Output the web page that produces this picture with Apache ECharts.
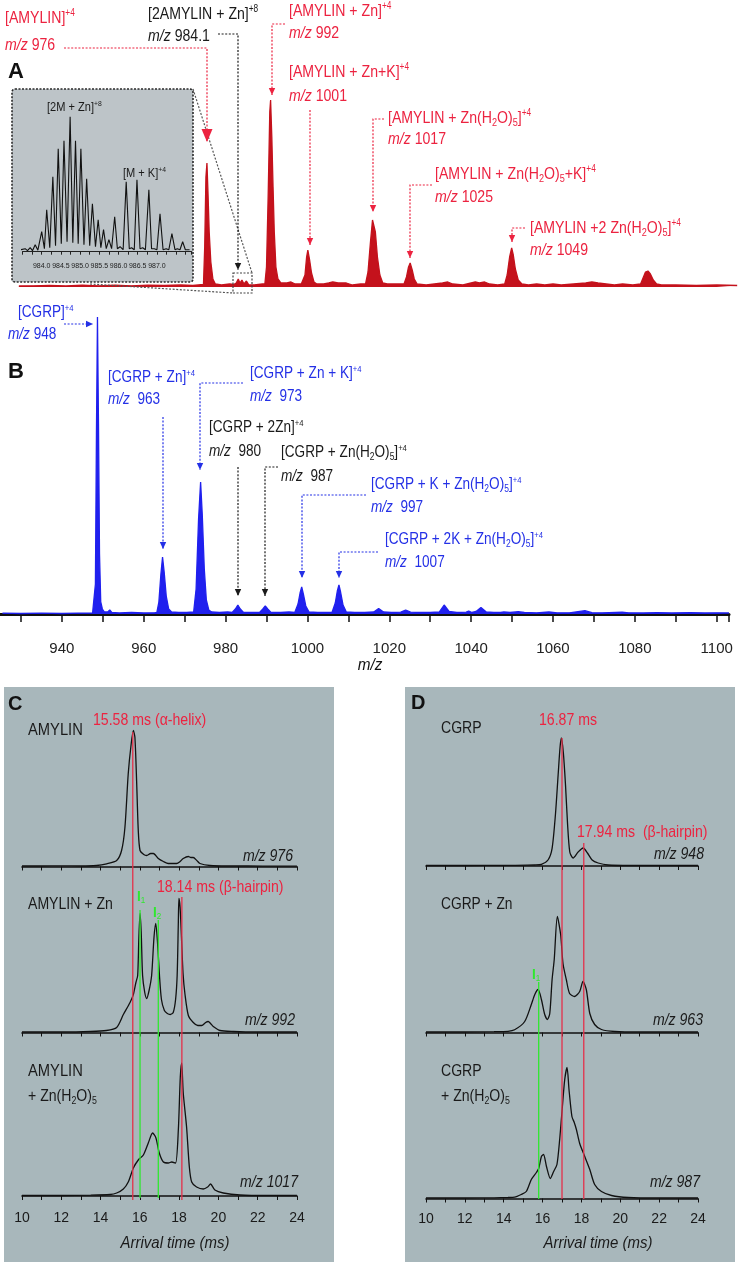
<!DOCTYPE html>
<html><head><meta charset="utf-8">
<script src="https://cdn.jsdelivr.net/npm/echarts@6/dist/echarts.min.js"></script>
<style>html,body{margin:0;padding:0;background:#fff}#c{width:738px;height:1265px}</style>
</head><body><div id="c"></div>
<script>
// ---------------- DATA ----------------
// Panel A: AMYLIN + Zn mass spectrum [m/z, intensity]
const spectrumA = [
[929.5,1],[933,1.2],[937,1.5],[941,1],[945,1.8],[949,1.2],[953,1.8],[957,1.2],[961,1.8],[965,1.5],[969,2],[972,1.5],
[974.6,2.5],[974.9,40],[975.2,110],[975.45,124],[975.7,95],[976.0,55],[976.4,25],[976.9,8],[977.5,3],[979,2],[981,3],
[982,2.5],[982.6,4],[983.1,8],[983.5,4],[984.0,7],[984.5,3],[985.1,6],[985.7,2],[987,2],[989,3],
[989.6,3],[990.0,20],[990.4,90],[990.8,175],[991.0,187],[991.3,150],[991.6,100],[991.9,55],[992.3,20],[992.8,8],[993.5,4],
[995,4],[996,5],[997,3],[998.5,3],
[998.9,3],[999.4,12],[999.8,30],[1000.1,37],[1000.5,28],[1001.0,14],[1001.6,5],[1002.3,3],
[1004,3],[1005.2,4],[1006.2,5],[1007.5,4],[1009.5,4],[1011,2],[1013,3],
[1014.2,3],[1014.8,15],[1015.4,45],[1015.9,67],[1016.2,69],[1016.6,55],[1017.1,30],[1017.7,12],[1018.4,4],[1019.5,3],
[1023.6,3],[1024.2,10],[1024.7,20],[1025.1,24],[1025.6,17],[1026.1,8],[1026.8,3],
[1029,2],[1031,3],[1033,4],[1034.3,5],[1035.5,3],[1038,2],[1040,4],[1041,5],[1042,4],[1043.3,5],[1044.5,3],[1046.5,2],
[1048.2,3],[1048.8,12],[1049.4,30],[1049.9,39],[1050.3,32],[1050.8,18],[1051.5,7],[1052.4,3],
[1054,2],[1056,3],[1058,2],[1060,3],[1062,2],[1065,3],[1068,4],[1069.5,5],[1071,4],[1073,3],[1075,2],[1077,3],[1079.5,2],
[1081.4,3],[1082.0,9],[1082.6,15],[1083.2,16],[1083.8,13],[1084.5,7],[1085.3,3],[1086.5,2],[1090,2],[1095,1.5],[1100,2],[1105,1.5]
];
// Panel B: CGRP + Zn mass spectrum [m/z, intensity]
const spectrumB = [
[925.5,0.8],[930,0.5],[935,0.8],[940,0.5],[944,0.8],[947.5,0.8],
[947.8,1],[948.2,30],[948.45,180],[948.7,297],[948.95,190],[949.2,60],[949.5,12],[949.9,5],[950.4,2],[951.2,2],[951.7,4],[952.2,1.5],[954,1],[957,1.5],[960,1],[962.6,1.2],
[963.2,1.5],[963.7,12],[964.2,40],[964.6,57],[965.0,42],[965.5,18],[966.1,5],[966.8,2],[968.5,1.5],[970.5,1.5],
[972.2,2],[972.8,25],[973.4,95],[973.9,132],[974.3,100],[974.8,45],[975.3,14],[975.9,4],[976.6,2],[978.5,1.5],[980.5,2],
[981.6,1.5],[982.4,5],[983.0,9],[983.6,5],[984.4,1.5],[986.5,1.5],
[988.3,1.5],[989.1,5],[989.7,8],[990.3,5],[991.1,1.5],[993.5,1.5],[995.5,2],
[996.9,1.5],[997.7,10],[998.2,21],[998.6,27],[999.0,20],[999.6,8],[1000.4,2],[1002.5,1.5],[1004.5,1.5],
[1006.0,1.5],[1006.8,11],[1007.3,23],[1007.7,29],[1008.1,22],[1008.7,9],[1009.5,2],[1011.5,1.5],[1014,1.5],
[1016.2,2],[1017.4,5.5],[1018.6,2],[1020.5,1.5],[1022.8,1.8],[1024.0,4],[1025.2,1.8],[1027.5,1.5],[1030,1.5],
[1032.2,2],[1033.4,9],[1034.6,2.5],[1036.5,1.5],[1038.8,1.8],[1039.4,3],[1040.2,1.5],[1041.2,2.5],[1042.4,6.5],[1043.7,2],[1045.5,1.5],
[1047.2,1.5],[1048.0,2],[1049.5,1.5],[1051.5,2.3],[1053,1.5],[1056,1.2],[1059,2],[1061,1.2],[1064,1.2],[1067.8,3.3],[1069.5,1.3],
[1072,1.2],[1076.9,1.8],[1078.5,1.2],[1082,1],[1085.5,1.3],[1089,1],[1093.5,1.3],[1097,1],[1100,1.2],[1103,1]
];
// Inset: isotope pattern of [2M+Zn]+8 / [M+K]+4
const insetSpectrum = [
[983.45,2],[983.57,3],[983.63,1],[983.70,4],[983.76,1],[983.83,7],[983.9,1.5],[984.0,20],[984.07,3],[984.13,42],[984.21,4],
[984.29,75],[984.36,6],[984.43,103],[984.51,8],[984.58,111],[984.66,10],[984.74,135],[984.81,9],[984.88,111],[984.95,8],
[985.02,103],[985.1,7],[985.17,73],[985.25,6],[985.32,48],[985.4,5],[985.47,32],[985.54,4],[985.61,22],[985.68,3],
[985.75,12],[985.82,3],[985.90,35],[985.97,3],[986.04,5],[986.12,2],[986.20,70],[986.28,3],[986.34,4],[986.41,2],
[986.48,72],[986.56,3],[986.63,4],[986.7,2],[986.79,62],[986.86,3],[986.93,3],[987.0,2],[987.08,38],[987.16,2],
[987.24,3],[987.31,2],[987.39,18],[987.47,2],[987.53,3],[987.6,2],[987.67,10],[987.74,2],[987.85,2]
];
// Panel C: arrival time distributions [ms, intensity]
const atdAmylin976 = [[10,0.5],[11,0.5],[12,0.6],[13,0.5],[13.8,1],[14.31,2.7],[14.82,6],[15.07,16],[15.24,39],[15.41,93],[15.55,121],[15.67,136],[15.75,129],[15.84,83],[15.92,36],[16.01,16],[16.2,12],[16.35,11],[16.55,13],[16.69,13],[16.94,8],[17.2,5],[17.45,3],[17.87,3],[18.05,5],[18.21,8],[18.47,10],[18.6,9],[18.72,9],[18.9,6],[19.06,3],[19.57,1],[20.42,0.5],[21.5,0.5],[23,0.4],[24,0.4]];
const atdAmylin992 = [[10,0.5],[12,0.5],[13.5,1],[14.3,2],[14.82,5],[15.16,18],[15.5,30],[15.67,38],[15.8,50],[15.89,57],[15.95,95],[16.01,119],[16.07,100],[16.14,57],[16.25,40],[16.35,34],[16.47,42],[16.6,57],[16.72,95],[16.81,109],[16.9,90],[17.0,57],[17.1,33],[17.25,22],[17.4,19],[17.55,18],[17.7,20],[17.82,33],[17.9,57],[17.96,110],[17.99,134],[18.05,125],[18.12,95],[18.2,59],[18.3,38],[18.47,17],[18.72,10],[18.95,7],[19.15,7],[19.35,10],[19.48,11],[19.6,9],[19.74,6],[20.08,2],[20.76,1],[22,0.5],[24,0.5]];
const atdAmylin1017 = [[10,0.5],[12,0.5],[13.5,0.8],[14.48,1.5],[14.82,3],[15.16,7],[15.41,14],[15.67,28],[15.92,36],[16.18,41],[16.43,53],[16.65,63],[16.82,58],[16.99,43],[17.2,34],[17.45,33],[17.62,34],[17.82,33],[17.96,66],[18.06,119],[18.13,133],[18.21,103],[18.38,69],[18.52,29],[18.64,14],[18.89,9],[19.23,7],[19.45,9],[19.6,12],[19.82,6],[20.25,3],[21.1,1],[22.5,0.5],[24,0.5]];
// Panel D
const atdCgrp948 = [[10,0.5],[12,0.5],[14,0.6],[15.2,0.8],[15.59,1],[15.94,1.7],[16.28,6],[16.49,17.7],[16.66,51],[16.8,91],[16.9,119],[16.97,128],[17.07,113],[17.18,81],[17.28,44],[17.4,14],[17.57,8],[17.83,14],[18.09,18],[18.31,13],[18.55,6],[18.86,3],[19.37,1],[20.5,0.5],[22,0.5],[24,0.5]];
const atdCgrp963 = [[10,0.5],[12,0.5],[13.5,0.8],[14.22,1.2],[14.56,2.7],[15.08,11],[15.42,28],[15.6,38],[15.77,43],[15.94,33],[16.11,18],[16.25,13],[16.37,19],[16.49,53],[16.6,73],[16.76,116],[16.93,98],[17.05,69],[17.22,53],[17.39,39],[17.65,36],[17.91,41],[18.08,51],[18.25,43],[18.43,19],[18.68,8],[19.03,3],[19.72,1],[21,0.5],[24,0.5]];
const atdCgrp987 = [[10,0.5],[12,0.5],[13.5,0.7],[14.22,1],[14.56,1.3],[14.9,4],[15.16,7],[15.42,19],[15.68,26],[15.8,30],[15.94,42],[16.05,44],[16.2,32],[16.4,20],[16.57,27],[16.74,34],[16.88,59],[17.02,92],[17.14,119],[17.26,131],[17.36,109],[17.51,82],[17.63,76],[17.74,69],[17.91,55],[18.17,42],[18.43,29],[18.68,14],[19.03,7],[19.55,3],[20.4,1],[22,0.5],[24,0.5]];
// marker lines (arrival time, ms)
const markersC = [{t:15.64,kind:'red'},{t:18.14,kind:'red'},{t:16.01,kind:'green'},{t:16.94,kind:'green'}];
const markersD = [{t:17.0,kind:'red'},{t:18.12,kind:'red'},{t:15.8,kind:'green'}];
// tick labels
const mzTickLabels = [940,960,980,1000,1020,1040,1060,1080,1100];
const insetTickLabels = [984.0,984.5,985.0,985.5,986.0,986.5,987.0];
const atdTickLabels = [10,12,14,16,18,20,22,24];

// ---------------- STYLE ----------------
const FONT = "'Liberation Sans','Arimo',sans-serif";
const RED_T='#ec2340', RED_S='#c4121c', BLUE_T='#2430e6', BLUE_S='#2020ee', BLK='#1a1a1a', GREEN='#2fe82f', VRED='#e4304a';

function richText(m){
  const re=/\^\{([^}]*)\}|_\{([^}]*)\}|\*([^*]*)\*/g; let out='',last=0,r;
  while((r=re.exec(m))){ if(r.index>last) out+='{n|'+m.slice(last,r.index)+'}';
    if(r[1]!==undefined) out+='{sup|'+r[1]+'}'; else if(r[2]!==undefined) out+='{sub|'+r[2]+'}'; else out+='{i|'+r[3]+'}';
    last=re.lastIndex; }
  if(last<m.length) out+='{n|'+m.slice(last)+'}'; return out;
}
function txt(m,x,y,color,size,opt){
  opt=opt||{};
  const it=opt.italic?'italic':'normal', fw=opt.bold?'bold':'normal';
  const base={fontFamily:FONT,fontSize:size,fill:color,color:color,fontStyle:it,fontWeight:fw,lineHeight:Math.round(size*1.15)};
  return {type:'text',x:x,y:y,z:100,silent:true,scaleX:opt.sx||0.85,style:{
    text:richText(m),fill:color,fontFamily:FONT,fontSize:size,align:opt.align||'left',verticalAlign:'middle',
    rich:{n:base,i:Object.assign({},base,{fontStyle:'italic'}),
      sup:{fontFamily:FONT,fontSize:Math.round(size*0.58),fill:color,color:color,fontStyle:it,verticalAlign:'top'},
      sub:{fontFamily:FONT,fontSize:Math.round(size*0.62),fill:color,color:color,fontStyle:it,verticalAlign:'bottom'}}}};
}
function arrow(pts,color,big){
  const els=[{type:'polyline',z:60,silent:true,shape:{points:pts},style:{stroke:color,lineWidth:1.2,lineDash:[2,1.6],fill:null}}];
  const [x1,y1]=pts[pts.length-2],[x2,y2]=pts[pts.length-1];
  const len=Math.hypot(x2-x1,y2-y1),ux=(x2-x1)/len,uy=(y2-y1)/len;
  const L=big?13:7,W=big?5.5:3.2,bx=x2-ux*L,by=y2-uy*L;
  els.push({type:'polygon',z:61,silent:true,shape:{points:[[x2,y2],[bx-uy*W,by+ux*W],[bx+uy*W,by-ux*W]]},style:{fill:color}});
  return els;
}

// ---------------- LAYOUT ----------------
const grids=[], xAxes=[], yAxes=[], series=[];
function addGrid(g,x,y){ grids.push(Object.assign({containLabel:false,outerBoundsMode:'none'},g)); xAxes.push(Object.assign({gridIndex:grids.length-1,type:'value'},x)); yAxes.push(Object.assign({gridIndex:grids.length-1,type:'value'},y)); return grids.length-1; }
const noY={show:false,splitLine:{show:false}};

// panel A
const gA=addGrid({left:-20,top:90,width:758,height:200},{min:920,max:1105.2,show:false,splitLine:{show:false}},Object.assign({min:-3,max:197},noY));
// panel B with m/z axis
const gB=addGrid({left:-20,top:310,width:749,height:312},{min:920,max:1103,interval:10,
  axisLine:{lineStyle:{color:'#111',width:3}},axisTick:{length:8,lineStyle:{color:'#111',width:1.5}},splitLine:{show:false},
  axisLabel:{margin:19,fontSize:15,color:'#222',fontFamily:FONT,formatter:v=>mzTickLabels.some(t=>Math.abs(t-v)<1e-6)?String(v):''}},
  Object.assign({min:-8,max:304},noY));
// inset background
const gInBg=addGrid({left:12,top:89,width:181,height:193,show:true,backgroundColor:'#bdc4c8',borderWidth:0},{show:false,min:0,max:1},{show:false,min:0,max:1});
// inset plot
const gIn=addGrid({left:22.5,top:105,width:169,height:153},{min:983.5,max:987.9,interval:0.25,
  axisLine:{lineStyle:{color:'#222',width:1}},axisTick:{length:3,lineStyle:{color:'#222'}},splitLine:{show:false},
  axisLabel:{margin:5,fontSize:7,color:'#222',fontFamily:FONT,formatter:v=>insetTickLabels.some(t=>Math.abs(t-v)<1e-6)?v.toFixed(1):''}},
  Object.assign({min:-6.3,max:146.7},noY));
// panel C / D backgrounds + overlays
const CX0=22,CPX=19.64,DX0=426,DPX=19.43;
const gCbg=addGrid({left:4,top:687,width:330,height:575,show:true,backgroundColor:'#a8b7bb',borderWidth:0},
  {show:false,min:10-(CX0-4)/CPX,max:10+(334-CX0)/CPX},{show:false,inverse:true,min:687,max:1262});
const gDbg=addGrid({left:405,top:687,width:330,height:575,show:true,backgroundColor:'#a8b7bb',borderWidth:0},
  {show:false,min:10-(DX0-405)/DPX,max:10+(735-DX0)/DPX},{show:false,inverse:true,min:687,max:1262});
function atdX(showLabels){
  return {min:10,max:24,interval:1,axisLine:{lineStyle:{color:'#111',width:1.6}},axisTick:{length:4,lineStyle:{color:'#111'}},splitLine:{show:false},
    axisLabel:{show:showLabels,margin:13,fontSize:14,color:'#1a1a1a',fontFamily:FONT,formatter:v=>atdTickLabels.includes(v)?String(v):''}};
}
const atdRows=[{bottom:868,min:-1.5},{bottom:1035,min:-2.5},{bottom:1198,min:-2}];
const atdRowsD=[{bottom:868,min:-2},{bottom:1035,min:-2.5},{bottom:1199,min:-0.5}];
const gC=atdRows.map((r,i)=>addGrid({left:CX0,top:r.bottom-145,width:14*CPX,height:145},atdX(i===2),Object.assign({min:r.min,max:145+r.min},noY)));
const gD=atdRowsD.map((r,i)=>addGrid({left:DX0,top:r.bottom-145,width:14*DPX,height:145},atdX(i===2),Object.assign({min:r.min,max:145+r.min},noY)));

// ---------------- SERIES ----------------
function lineS(gi,data,color,width,area,extra){
  return Object.assign({type:'line',xAxisIndex:gi,yAxisIndex:gi,data:data,symbol:'none',silent:true,z:3,
    lineStyle:{color:color,width:width},areaStyle:area?{color:color,opacity:1}:undefined},extra||{});
}
series.push(lineS(gA,spectrumA,RED_S,1.3,true));
series.push(lineS(gB,spectrumB,BLUE_S,1.3,true));
series.push(lineS(gIn,insetSpectrum,'#111',1.1,false));
[atdAmylin976,atdAmylin992,atdAmylin1017].forEach((d,i)=>series.push(lineS(gC[i],d,'#111',1.3,false,{smooth:0.25})));
[atdCgrp948,atdCgrp963,atdCgrp987].forEach((d,i)=>series.push(lineS(gD[i],d,'#111',1.3,false,{smooth:0.25})));
const spanC={red0:[732,1200],red1:[897,1200],green0:[910,1198],green1:[920,1198]};
const spanD={red0:[738,1199],red1:[843,1199],green0:[982,1199]};
function markerSeries(gi,markers,spans){
  let r=0,g=0;
  markers.forEach(m=>{
    const key=m.kind==='red'?'red'+(r++):'green'+(g++); const sp=spans[key];
    series.push({type:'line',xAxisIndex:gi,yAxisIndex:gi,symbol:'none',silent:true,z:5,data:[[m.t,sp[0]],[m.t,sp[1]]],
      lineStyle:{color:m.kind==='red'?VRED:GREEN,width:1.3}});
  });
}
markerSeries(gCbg,markersC,spanC);
markerSeries(gDbg,markersD,spanD);

// ---------------- GRAPHIC (labels / annotations) ----------------
const G=[];
G.push(txt('A',8,72,'#111',22,{bold:true,sx:1}),txt('B',8,372,'#111',22,{bold:true,sx:1}),txt('C',8,704,'#111',20,{bold:true,sx:1}),txt('D',411,703,'#111',20,{bold:true,sx:1}));
[['[AMYLIN]^{+4}',5,18,RED_T],['*m/z* 976',5,45,RED_T],['[2AMYLIN + Zn]^{+8}',148,14,BLK],['*m/z* 984.1',148,36,BLK],
 ['[AMYLIN + Zn]^{+4}',289,11,RED_T],['*m/z* 992',289,33,RED_T],['[AMYLIN + Zn+K]^{+4}',289,72,RED_T],['*m/z* 1001',289,96,RED_T],
 ['[AMYLIN + Zn(H_{2}O)_{5}]^{+4}',388,118,RED_T],['*m/z* 1017',388,139,RED_T],
 ['[AMYLIN + Zn(H_{2}O)_{5}+K]^{+4}',435,174,RED_T],['*m/z* 1025',435,197,RED_T],
 ['[AMYLIN +2 Zn(H_{2}O)_{5}]^{+4}',530,228,RED_T],['*m/z* 1049',530,250,RED_T]
].forEach(a=>G.push(txt(a[0],a[1],a[2],a[3],17,{sx:0.83})));
[['[CGRP]^{+4}',18,313,BLUE_T],['*m/z* 948',8,335,BLUE_T],['[CGRP + Zn]^{+4}',108,378,BLUE_T],['*m/z*  963',108,400,BLUE_T],
 ['[CGRP + Zn + K]^{+4}',250,374,BLUE_T],['*m/z*  973',250,397,BLUE_T],['[CGRP + 2Zn]^{+4}',209,428,BLK],['*m/z*  980',209,452,BLK],
 ['[CGRP + Zn(H_{2}O)_{5}]^{+4}',281,453,BLK],['*m/z*  987',281,477,BLK],
 ['[CGRP + K + Zn(H_{2}O)_{5}]^{+4}',371,485,BLUE_T],['*m/z*  997',371,508,BLUE_T],
 ['[CGRP + 2K + Zn(H_{2}O)_{5}]^{+4}',385,540,BLUE_T],['*m/z*  1007',385,563,BLUE_T]
].forEach(a=>G.push(txt(a[0],a[1],a[2],a[3],16,{sx:0.85})));
G.push(txt('*m/z*',370,665,'#111',17,{align:'center',sx:0.9}));
G.push(txt('[2M + Zn]^{+8}',47,107,BLK,13,{sx:0.85}),txt('[M + K]^{+4}',123,173,BLK,13,{sx:0.85}));
G.push({type:'rect',z:55,silent:true,shape:{x:12,y:89,width:181,height:193,r:3},style:{fill:null,stroke:'#2a2a2a',lineWidth:1.6,lineDash:[2,1.5]}});
G.push({type:'rect',z:55,silent:true,shape:{x:233,y:273,width:19,height:20},style:{fill:null,stroke:'#444',lineWidth:1.2,lineDash:[2,1.5]}});
G.push({type:'polyline',z:55,silent:true,shape:{points:[[193,89],[252,273]]},style:{stroke:'#555',lineWidth:1.2,lineDash:[2,1.6],fill:null}});
G.push({type:'polyline',z:55,silent:true,shape:{points:[[90,284],[233,293]]},style:{stroke:'#555',lineWidth:1.2,lineDash:[2,1.6],fill:null}});
[[[[64,48],[207,48],[207,142]],RED_T,true],[[[218,34],[238,34],[238,270]],BLK],[[[285,24],[272,24],[272,95]],RED_T],
 [[[310,110],[310,245]],RED_T],[[[384,119],[373,119],[373,212]],RED_T],[[[432,185],[410,185],[410,258]],RED_T],
 [[[525,228],[512,228],[512,242]],RED_T],
 [[[64,324],[93,324]],BLUE_T],[[[163,417],[163,549]],BLUE_T],[[[243,383],[200,383],[200,470]],BLUE_T],
 [[[238,467],[238,596]],BLK],[[[278,467],[265,467],[265,596]],BLK],[[[366,495],[302,495],[302,578]],BLUE_T],
 [[[378,552],[339,552],[339,578]],BLUE_T]
].forEach(a=>arrow(a[0],a[1],a[2]).forEach(e=>G.push(e)));
// panel C labels
G.push(txt('AMYLIN',28,731,BLK,16,{sx:0.92}),txt('15.58 ms (α-helix)',93,720,RED_T,17,{sx:0.83}),txt('*m/z 976*',293,857,BLK,16,{align:'right',sx:0.88}),
  txt('AMYLIN + Zn',28,905,BLK,16,{sx:0.88}),txt('18.14 ms (β-hairpin)',157,887,RED_T,17,{sx:0.83}),txt('I_{1}',137,897,GREEN,15,{bold:true,sx:0.9}),txt('I_{2}',153,913,GREEN,15,{bold:true,sx:0.9}),
  txt('*m/z 992*',295,1021,BLK,16,{align:'right',sx:0.88}),txt('AMYLIN',28,1072,BLK,16,{sx:0.92}),txt('+ Zn(H_{2}O)_{5}',28,1097,BLK,16,{sx:0.88}),
  txt('*m/z 1017*',298,1183,BLK,16,{align:'right',sx:0.88}),txt('Arrival time (ms)',175,1243,BLK,17,{italic:true,align:'center',sx:0.88}));
// panel D labels
G.push(txt('CGRP',441,729,BLK,16,{sx:0.88}),txt('16.87 ms',539,720,RED_T,17,{sx:0.83}),txt('17.94 ms  (β-hairpin)',577,832,RED_T,17,{sx:0.83}),
  txt('*m/z 948*',704,855,BLK,16,{align:'right',sx:0.88}),txt('CGRP + Zn',441,905,BLK,16,{sx:0.86}),txt('I_{1}',532,975,GREEN,15,{bold:true,sx:0.9}),
  txt('*m/z 963*',703,1021,BLK,16,{align:'right',sx:0.88}),txt('CGRP',441,1072,BLK,16,{sx:0.88}),txt('+ Zn(H_{2}O)_{5}',441,1097,BLK,16,{sx:0.88}),
  txt('*m/z 987*',700,1183,BLK,16,{align:'right',sx:0.88}),txt('Arrival time (ms)',598,1243,BLK,17,{italic:true,align:'center',sx:0.88}));

const chart=echarts.init(document.getElementById('c'),null,{renderer:'canvas'});
chart.setOption({animation:false,backgroundColor:'#fff',grid:grids,xAxis:xAxes,yAxis:yAxes,series:series,graphic:{elements:G}});
</script></body></html>
